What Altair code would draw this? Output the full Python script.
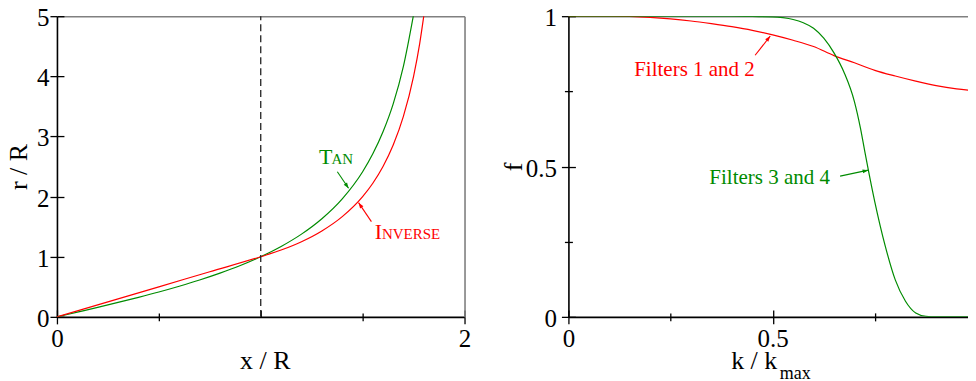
import math
import altair as alt
import pandas as pd

FONT = "Liberation Serif"
GREEN = "#008b00"
RED = "#ff0000"
GRAY = "#808080"

# ---------------- left panel : r/R versus x/R ----------------
tan_x = [0.0, 0.1, 0.2, 0.3, 0.4, 0.5, 0.6, 0.7, 0.8, 0.9, 1.0, 1.1, 1.2, 1.3,
         1.4, 1.5, 1.55, 1.6, 1.65, 1.7, 1.75]
tan_r = [0.0, 0.079, 0.158, 0.240, 0.325, 0.414, 0.510, 0.613, 0.727, 0.854, 1.0,
         1.171, 1.376, 1.632, 1.963, 2.414, 2.711, 3.078, 3.542, 4.165, 5.027]
inv_x = [0.0, 0.25, 0.5, 0.75, 1.0, 1.1, 1.2, 1.3, 1.4, 1.5, 1.55, 1.6, 1.65,
         1.7, 1.75, 1.78, 1.8]
inv_r = [0.0, 0.25, 0.5, 0.75, 1.0, 1.111, 1.25, 1.429, 1.667, 2.0, 2.222, 2.5,
         2.857, 3.333, 4.0, 4.545, 5.0]
left_series = ["Tan", "Inverse"]
left_x_major = [0, 1, 2]
left_x_minor = [0.5, 1.5]
left_y_major = [0, 1, 2, 3, 4, 5]

# ---------------- right panel : f versus k/kmax ----------------
k_12 = [0.0, 0.1, 0.15, 0.2, 0.25, 0.3, 0.35, 0.4, 0.45, 0.5, 0.55, 0.6, 0.65,
        0.7, 0.75, 0.8, 0.85, 0.9, 0.95, 1.0]
f_12 = [1.0, 1.0, 0.999, 0.996, 0.991, 0.984, 0.975, 0.965, 0.953, 0.938, 0.920,
        0.899, 0.869, 0.845, 0.820, 0.801, 0.784, 0.769, 0.758, 0.751]
k_34 = [0.0, 0.2, 0.4, 0.45, 0.5, 0.525, 0.55, 0.575, 0.6, 0.625, 0.65, 0.675,
        0.7, 0.715, 0.725, 0.75, 0.775, 0.8, 0.825, 0.85, 0.875, 0.9, 1.0]
f_34 = [1.0, 1.0, 1.0, 0.999, 0.998, 0.995, 0.989, 0.978, 0.960, 0.927, 0.878,
        0.812, 0.716, 0.626, 0.553, 0.382, 0.238, 0.123, 0.052, 0.013, 0.002, 0.0, 0.0]
right_series = ["Filters 1 and 2", "Filters 3 and 4"]
right_major = [0, 0.5, 1]
right_minor = [0.25, 0.75]

# annotations (data coordinates)
left_big = {"text": ["T", "I"], "x": [1.286, 1.559], "y": [2.542, 1.296], "c": [GREEN, RED]}
left_small = {"text": ["AN", "NVERSE"], "x": [1.347, 1.595], "y": [2.542, 1.296], "c": [GREEN, RED]}
left_arrows = {"x": [1.376, 1.543], "y": [2.414, 1.583], "x2": [1.431, 1.480],
               "y2": [2.138, 1.899], "c": [GREEN, RED]}
right_text = {"text": right_series, "x": [0.161, 0.345], "y": [0.802, 0.441], "c": [RED, GREEN]}
right_arrows = {"x": [0.457, 0.665], "y": [0.870, 0.468], "x2": [0.494, 0.734],
                "y2": [0.934, 0.488], "c": [RED, GREEN]}

LW, RW, H = 408, 409, 301
HEAD = "M0,0L-0.35,1L0.35,1Z"


def heads(arr, sx, sy):
    ang = []
    for x1, y1, x2, y2 in zip(arr["x"], arr["y"], arr["x2"], arr["y2"]):
        dx = (x2 - x1) * sx
        dy = -(y2 - y1) * sy
        ang.append(math.degrees(math.atan2(dx, -dy)) % 360)
    return pd.DataFrame({"x": arr["x2"], "y": arr["y2"], "c": arr["c"], "ang": ang})


def main_axis(orient, values, fmt, title, pad, tx, ty, angle, loff=0):
    return alt.Axis(orient=orient, values=values, format=fmt, title=title, grid=False,
                    domain=True, domainColor="black", domainWidth=1.6,
                    ticks=True, tickSize=7, tickColor="black", tickWidth=1.3,
                    labelFont=FONT, labelFontSize=25, labelColor="black",
                    labelPadding=pad, labelFlush=False, labelOverlap=False,
                    labelOffset=loff,
                    titleFont=FONT, titleFontSize=26, titleFontWeight="normal",
                    titleColor="black", titleX=tx, titleY=ty, titleAngle=angle,
                    titleBaseline="alphabetic", titleAlign="center")


def tick_axis(orient, values, half, both=False, **kw):
    size = 2 * half if both else half
    return alt.Axis(orient=orient, values=values, offset=-half, tickSize=size,
                    domain=False, labels=False, grid=False, ticks=True,
                    tickColor="black", tickWidth=1.3, **kw)


def frame_axis(orient):
    return alt.Axis(orient=orient, values=[], domain=True, domainColor=GRAY,
                    domainWidth=1.6, ticks=False, labels=False, grid=False, title=None)


# ---------------- build left panel ----------------
xsL = alt.Scale(domain=[0, 2], nice=False, zero=False)
ysL = alt.Scale(domain=[0, 5], nice=False, zero=False)

left_df = pd.DataFrame({"x": tan_x + inv_x, "y": tan_r + inv_r,
                        "s": [left_series[0]] * len(tan_x) + [left_series[1]] * len(inv_x),
                        "c": [GREEN] * len(tan_x) + [RED] * len(inv_x)})

L1 = alt.Chart(left_df).mark_line(interpolate="monotone", strokeWidth=1.2, clip=True).encode(
    x=alt.X("x:Q", scale=xsL, axis=main_axis("bottom", left_x_major, "d", "x / R", 3, 208, 52, 0)),
    y=alt.Y("y:Q", scale=ysL, axis=main_axis("left", left_y_major, "d", "r / R", 1, -30, H / 2, 270, 1.5)),
    color=alt.Color("c:N", scale=None),
    detail="s:N",
)

dash_df = pd.DataFrame({"x": [1.0], "y": [0.0], "y2": [5.0]})
L2 = alt.Chart(dash_df).mark_rule(color="#222222", strokeWidth=1.3, strokeDash=[7, 4]).encode(
    x=alt.X("x:Q", scale=xsL, axis=tick_axis("bottom", left_x_major, 7, title=None)),
    y=alt.Y("y:Q", scale=ysL, axis=tick_axis("left", left_y_major, 7, title=None)),
    y2="y2:Q",
)

L3 = alt.Chart(pd.DataFrame(left_arrows)).mark_rule(strokeWidth=1.1).encode(
    x=alt.X("x:Q", scale=xsL, axis=tick_axis("bottom", left_x_minor, 4, both=True, title=None)),
    y=alt.Y("y:Q", scale=ysL, axis=None),
    x2="x2:Q", y2="y2:Q",
    color=alt.Color("c:N", scale=None),
)

L4 = alt.Chart(heads(left_arrows, LW / 2, H / 5)).mark_point(
    shape=HEAD, size=130, filled=True, opacity=1, strokeWidth=0).encode(
    x=alt.X("x:Q", scale=xsL, axis=frame_axis("top")),
    y=alt.Y("y:Q", scale=ysL, axis=frame_axis("right")),
    color=alt.Color("c:N", scale=None),
    angle=alt.Angle("ang:Q", scale=None),
)

L5 = alt.Chart(pd.DataFrame(left_big)).mark_text(
    font=FONT, fontSize=22, align="left", baseline="alphabetic").encode(
    x=alt.X("x:Q", scale=xsL, axis=None), y=alt.Y("y:Q", scale=ysL, axis=None),
    text="text:N", color=alt.Color("c:N", scale=None))

L6 = alt.Chart(pd.DataFrame(left_small)).mark_text(
    font=FONT, fontSize=15, align="left", baseline="alphabetic").encode(
    x=alt.X("x:Q", scale=xsL, axis=None), y=alt.Y("y:Q", scale=ysL, axis=None),
    text="text:N", color=alt.Color("c:N", scale=None))

left = alt.layer(L1, L2, L3, L4, L5, L6).resolve_axis(
    x="independent", y="independent").properties(width=LW, height=H)

# ---------------- build right panel ----------------
xsR = alt.Scale(domain=[0, 1], nice=False, zero=False)
ysR = alt.Scale(domain=[0, 1], nice=False, zero=False)

right_df = pd.DataFrame({"x": k_12 + k_34, "y": f_12 + f_34,
                         "s": [right_series[0]] * len(k_12) + [right_series[1]] * len(k_34),
                         "c": [RED] * len(k_12) + [GREEN] * len(k_34)})

R1 = alt.Chart(right_df).mark_line(interpolate="monotone", strokeWidth=1.2, clip=True).encode(
    x=alt.X("x:Q", scale=xsR, axis=main_axis("bottom", right_major, "~g", "k / k", 3, 185.5, 52, 0)),
    y=alt.Y("y:Q", scale=ysR, axis=main_axis("left", right_major, "~g", "f", 5, -47, H / 2, 270, 1.5)),
    color=alt.Color("c:N", scale=None),
    detail="s:N",
)

R2 = alt.Chart(pd.DataFrame(right_arrows)).mark_rule(strokeWidth=1.1).encode(
    x=alt.X("x:Q", scale=xsR, axis=tick_axis(
        "bottom", right_major, 7, title="max", titleFont=FONT, titleFontSize=18,
        titleFontWeight="normal", titleColor="black", titleAlign="left",
        titleBaseline="alphabetic", titleX=211, titleY=69)),
    y=alt.Y("y:Q", scale=ysR, axis=tick_axis("left", right_major, 7, title=None)),
    x2="x2:Q", y2="y2:Q",
    color=alt.Color("c:N", scale=None),
)

R3 = alt.Chart(heads(right_arrows, RW, H)).mark_point(
    shape=HEAD, size=130, filled=True, opacity=1, strokeWidth=0).encode(
    x=alt.X("x:Q", scale=xsR, axis=tick_axis("bottom", right_minor, 4, both=True, title=None)),
    y=alt.Y("y:Q", scale=ysR, axis=tick_axis("left", right_minor, 4, both=True, title=None)),
    color=alt.Color("c:N", scale=None),
    angle=alt.Angle("ang:Q", scale=None),
)

R4 = alt.Chart(pd.DataFrame(right_text)).mark_text(
    font=FONT, fontSize=21, align="left", baseline="alphabetic").encode(
    x=alt.X("x:Q", scale=xsR, axis=frame_axis("top")),
    y=alt.Y("y:Q", scale=ysR, axis=frame_axis("right")),
    text="text:N", color=alt.Color("c:N", scale=None))

right = alt.layer(R1, R2, R3, R4).resolve_axis(
    x="independent", y="independent").properties(width=RW, height=H)

chart = alt.hconcat(left, right, spacing=29).properties(
    padding={"left": -2, "top": -3, "right": -16, "bottom": 0},
    background="white",
).configure_view(stroke=None)

chart.save("out.html", embed_options={"renderer": "svg", "actions": False})
